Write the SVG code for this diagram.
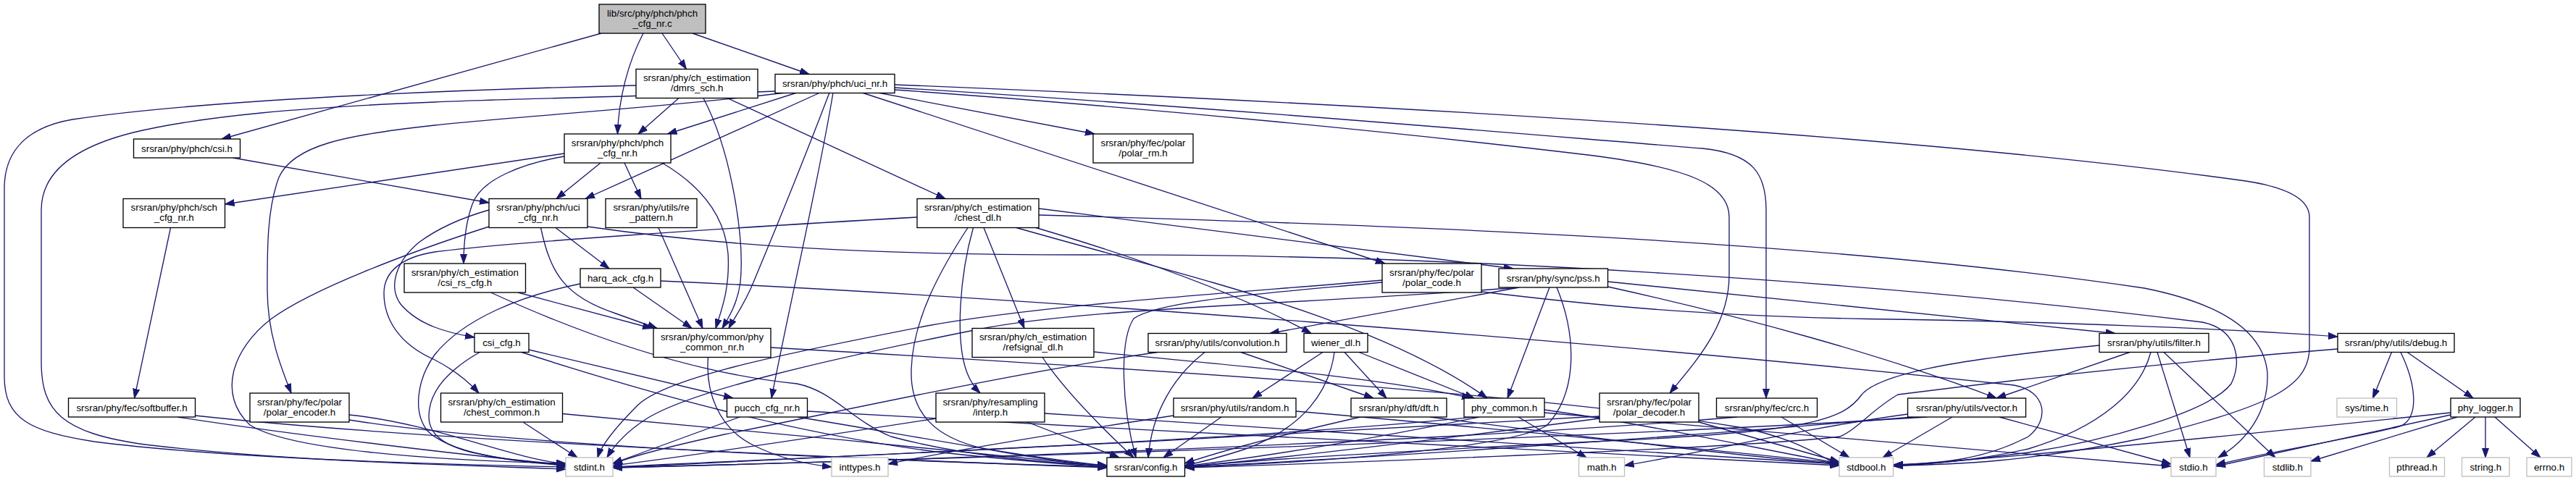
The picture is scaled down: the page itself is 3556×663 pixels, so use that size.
<svg xmlns="http://www.w3.org/2000/svg" width="3556" height="663" viewBox="0 0 3556 663">
<style>
.n rect{fill:#fff;stroke:#000;stroke-width:1.33}
.g rect{fill:#fff;stroke:#bfbfbf;stroke-width:1.33}
.r rect{fill:#bfbfbf;stroke:#000;stroke-width:1.33}
text{font-family:"Liberation Sans",Arial,Helvetica,sans-serif;font-size:13.33px;text-anchor:middle;fill:#000}
#edges path{fill:none;stroke:#191970;stroke-width:1.33;marker-end:url(#a)}
</style>
<defs>
<marker id="a" markerUnits="userSpaceOnUse" markerWidth="14" markerHeight="10" viewBox="0 0 14 10" refX="13" refY="5" orient="auto"><path d="M0,0.5 L13,5 L0,9.5 z" fill="#191970" stroke="#191970" stroke-width="1"/></marker>
</defs>
<rect width="3556" height="663" fill="#fff"/>
<g id="edges">
<path d="M830,46 L306,192"/>
<path d="M888,46 C867,86 854,136 852.5,185"/>
<path d="M914,46 L947.5,95.5"/>
<path d="M956,46 L1117,102.5"/>
<path d="M937,135.5 L881,185"/>
<path d="M971,135.5 C1010,210 1028,330 1022,390 C1018,420 1005,440 997,453.5"/>
<path d="M1004,135.5 L1305,274.5"/>
<path d="M878,118 C700,122 300,135 100,165 C25,178 6,220 6,260 L6,520 C6,578 40,596 130,610 C320,634 600,641 781,645"/>
<path d="M1070,126 C900,133 720,136 600,141 C420,148 280,160 184,183 C100,204 57,240 57,290 L57,500 C57,568 85,598 200,614 C400,638 650,643 781,648"/>
<path d="M1085,128 C900,150 720,160 600,173 C480,186 405,200 385,245 C368,290 369,350 369,400 C369,460 388,508 402,543"/>
<path d="M1100,128 L921.5,185"/>
<path d="M1132,128 L808,274.5"/>
<path d="M1145,128 C1110,220 1065,330 1040,390 C1028,420 1013,440 1006,453.5"/>
<path d="M1150,128 C1130,250 1090,420 1065,550"/>
<path d="M1212,128 L1511,185"/>
<path d="M1190,128 L1912,364"/>
<path d="M1235,117 C1800,140 2600,180 3100,250 C3178,262 3188,285 3188,300 L3188,480 C3188,540 3120,563 2960,605 C2800,638 2700,642 2614,643"/>
<path d="M1235,121 C1700,150 2100,185 2350,205 C2420,212 2438,240 2438,290 L2438,550"/>
<path d="M1235,124 C1600,150 1950,185 2200,215 C2330,232 2387,255 2387,300 L2387,380 C2387,450 2340,500 2305,543"/>
<path d="M321.5,218 L675,280"/>
<path d="M829,225 L768,274.5"/>
<path d="M862,225 L885,274.5"/>
<path d="M914,225 C965,255 1000,295 1005,350 C1008,400 995,430 988,453.5"/>
<path d="M779,216 C720,226 664,248 652,282 C642,310 640,340 640,364"/>
<path d="M779,212 L310.5,282"/>
<path d="M235.5,314.5 L185.5,550"/>
<path d="M245,576 C400,600 650,630 781,642"/>
<path d="M269.5,574 C600,610 1200,634 1528,646"/>
<path d="M482,573 C600,585 700,632 781,641"/>
<path d="M482,580 C700,615 1200,636 1528,645"/>
<path d="M675,290 C640,300 605,315 578,335 C548,360 535,395 553,420 C578,450 620,460 655,466"/>
<path d="M675,313 C560,350 430,400 375,440 C320,482 300,545 345,587 C400,622 600,636 781,640"/>
<path d="M767,314.5 L841,371"/>
<path d="M746.5,314.5 C760,378 780,410 850,433 C875,442 895,449 907,453.5"/>
<path d="M811,313 C1000,340 1200,352 1500,352 C2000,350 2600,390 3040,445 C3090,455 3095,500 3080,530 C3050,570 2900,610 2800,625 C2700,638 2650,642 2614,644"/>
<path d="M715,404 L900,453.5"/>
<path d="M677.5,404 C800,460 950,515 1100,530 C1150,540 1175,580 1230,603 C1330,630 1450,640 1528,643"/>
<path d="M874,397 L955,453.5"/>
<path d="M801,392 C720,408 640,440 600,490 C575,525 570,570 590,595 C620,625 700,637 781,643"/>
<path d="M912,388 C1400,410 2200,470 2780,532 C2825,540 2830,580 2800,603 C2740,635 2680,640 2614,642"/>
<path d="M663,486 C612,515 592,545 592,575 C592,600 612,615 652,625 C702,636 742,640 781,642"/>
<path d="M730,483 L1012,550"/>
<path d="M718.5,486 C900,545 1100,600 1300,625 C1420,638 1480,642 1528,645"/>
<path d="M977.5,493.5 C974,540 990,590 1040,615 C1080,635 1120,642 1148,645"/>
<path d="M1064,480 C1500,505 2100,540 2400,590 C2480,605 2510,630 2539,642"/>
<path d="M1266,300 C1000,315 700,335 600,348 C555,355 530,375 530,405 C530,440 550,475 600,497 C625,510 645,525 661,543"/>
<path d="M1336,314.5 C1300,370 1260,440 1258,510 C1256,570 1290,605 1360,620 C1430,633 1480,640 1528,644"/>
<path d="M1343.5,314.5 C1325,380 1318,470 1335,515 C1340,528 1346,536 1353,543"/>
<path d="M1358,314.5 L1414,453.5"/>
<path d="M1403,314.5 C1650,385 1900,440 2053,550"/>
<path d="M1434,288 L2089,371"/>
<path d="M1430,314.5 C1550,350 1700,400 1810,460.5"/>
<path d="M1434,297 C1900,310 2500,330 2960,398 C3070,420 3125,460 3130,515 C3132,570 3100,610 3062,632"/>
<path d="M1439,493.5 C1470,540 1520,590 1565,632"/>
<path d="M1510,486 C1700,505 1900,520 2031,550"/>
<path d="M1598,486.5 C1400,515 1200,560 1000,600 C900,622 860,635 846,641"/>
<path d="M1663,486.5 C1620,520 1590,570 1585,632"/>
<path d="M1713,486.5 L1896,550"/>
<path d="M1826,486.5 L1729,550"/>
<path d="M1856,486.5 L1914,550"/>
<path d="M1876,486.5 L2035,550"/>
<path d="M1842,486.5 C1835,540 1800,590 1720,620 C1680,633 1650,640 1635.5,643"/>
<path d="M1292,578 C1150,600 950,630 846,643"/>
<path d="M1418,583 L1545,632"/>
<path d="M1442,571 C1800,595 2300,625 2539,641"/>
<path d="M1620,574 C1450,600 1300,625 1226,641"/>
<path d="M1686,576 L1606,632"/>
<path d="M1789,568 C2100,595 2400,625 2539,640"/>
<path d="M1878,576 C1750,605 1680,625 1635.5,640"/>
<path d="M1974,576 C2200,605 2400,630 2539,641"/>
<path d="M2096,576 L2190,632"/>
<path d="M2042,576 C1900,605 1750,630 1635.5,644"/>
<path d="M2035,576 C1700,610 1100,632 846,645"/>
<path d="M2132,566 C2300,590 2450,625 2539,640"/>
<path d="M2132,570 C2500,600 2850,630 2997,644"/>
<path d="M2097,397 L1753,460.5"/>
<path d="M2097,397 C1800,420 1500,425 1350,455 C1150,495 950,540 890,580 C860,600 845,620 838,632"/>
<path d="M2139,397 L2081,550"/>
<path d="M2149,397 C2175,460 2180,540 2135,588 C2080,620 1800,640 1635.5,645"/>
<path d="M2219.5,389 L2920,460.5"/>
<path d="M2219.5,396 C2400,436 2600,490 2756,550"/>
<path d="M1908,387 C1700,405 1450,420 1280,450 C1100,485 920,520 880,560 C850,590 830,615 825,632"/>
<path d="M1908,390 C1750,405 1600,415 1565,440 C1545,470 1548,560 1568,632"/>
<path d="M2045,403 C2150,415 2300,435 2577,440.5 C2800,443 3100,455 3227,465"/>
<path d="M2940,486.5 L2756,550"/>
<path d="M2978,486.5 L3023,632"/>
<path d="M2987,486.5 L3141,632"/>
<path d="M2969,486.5 C2955,540 2900,590 2800,620 C2720,638 2660,641 2614,642"/>
<path d="M2898,477 C2750,492 2600,510 2570,545 C2545,580 2500,597 2200,610 C1900,625 1700,638 1635.5,645"/>
<path d="M3227,482 C3000,500 2800,522 2620,545 C2585,565 2565,592 2540,603 C2400,620 1800,641 1635.5,646"/>
<path d="M3301.5,486.5 L3275.5,550"/>
<path d="M3323,486.5 L3414,550"/>
<path d="M3314,486.5 C3335,530 3340,575 3315,588 C3280,600 3150,620 3059,642"/>
<path d="M3383,573 L3059,644"/>
<path d="M3392,576 L3190,637"/>
<path d="M3417,576 L3350,632"/>
<path d="M3431,576 L3431,632"/>
<path d="M3444,576 L3507,632"/>
<path d="M3383,570 C3100,600 2800,630 2614,643"/>
<path d="M2695,576 L2599,632"/>
<path d="M2760,576 L2997,641"/>
<path d="M2633.5,572 C2500,590 2350,625 2242.5,643"/>
<path d="M2640,576 C2300,605 1900,632 1635.5,645"/>
<path d="M2660,576 C2200,605 1400,632 846,646"/>
<path d="M2459,576 L2553,632"/>
<path d="M2398,576 C2000,610 1300,635 846,646"/>
<path d="M2345,583 L2539,638"/>
<path d="M2208,578 C2000,605 1800,630 1635.5,645"/>
<path d="M2208,575 C1800,600 1200,630 846,646"/>
<path d="M1021,576 L846,640"/>
<path d="M1101,576 C1250,600 1400,630 1528,643"/>
<path d="M1114.5,568 C1600,595 2200,628 2539,643"/>
<path d="M722,583 L797,632"/>
<path d="M776.5,571.5 C1000,592 1300,620 1528,644"/>
<path d="M909,314.5 L970,453.5"/>
</g>
<g id="n_root" class="r"><rect x="827" y="6" width="147" height="40"/><text x="900.5" y="22.5">lib/src/phy/phch/phch</text><text x="900.5" y="36.5">_cfg_nr.c</text></g>
<g id="n_dmrs" class="n"><rect x="878" y="95.5" width="168" height="40"/><text x="962" y="112">srsran/phy/ch_estimation</text><text x="962" y="126">/dmrs_sch.h</text></g>
<g id="n_ucinr" class="n"><rect x="1070" y="102.5" width="165" height="26"/><text x="1152.5" y="120">srsran/phy/phch/uci_nr.h</text></g>
<g id="n_csi" class="n"><rect x="184.5" y="192" width="147" height="26"/><text x="258" y="209.5">srsran/phy/phch/csi.h</text></g>
<g id="n_phchcfg" class="n"><rect x="779" y="185" width="147" height="40"/><text x="852.5" y="201.5">srsran/phy/phch/phch</text><text x="852.5" y="215.5">_cfg_nr.h</text></g>
<g id="n_polarrm" class="n"><rect x="1509" y="185" width="138" height="40"/><text x="1578" y="201.5">srsran/phy/fec/polar</text><text x="1578" y="215.5">/polar_rm.h</text></g>
<g id="n_sch" class="n"><rect x="170" y="274.5" width="140.5" height="40"/><text x="240.25" y="291">srsran/phy/phch/sch</text><text x="240.25" y="305">_cfg_nr.h</text></g>
<g id="n_ucicfg" class="n"><rect x="675" y="274.5" width="136" height="40"/><text x="743" y="291">srsran/phy/phch/uci</text><text x="743" y="305">_cfg_nr.h</text></g>
<g id="n_repat" class="n"><rect x="836" y="274.5" width="126" height="40"/><text x="899" y="291">srsran/phy/utils/re</text><text x="899" y="305">_pattern.h</text></g>
<g id="n_chestdl" class="n"><rect x="1266" y="274.5" width="168" height="40"/><text x="1350" y="291">srsran/phy/ch_estimation</text><text x="1350" y="305">/chest_dl.h</text></g>
<g id="n_csirs" class="n"><rect x="558" y="364" width="167.5" height="40"/><text x="641.75" y="380.5">srsran/phy/ch_estimation</text><text x="641.75" y="394.5">/csi_rs_cfg.h</text></g>
<g id="n_harq" class="n"><rect x="801" y="371" width="111" height="26"/><text x="856.5" y="388.5">harq_ack_cfg.h</text></g>
<g id="n_polarcode" class="n"><rect x="1908" y="364" width="137" height="40"/><text x="1976.5" y="380.5">srsran/phy/fec/polar</text><text x="1976.5" y="394.5">/polar_code.h</text></g>
<g id="n_pss" class="n"><rect x="2069" y="371" width="150.5" height="26"/><text x="2144.25" y="388.5">srsran/phy/sync/pss.h</text></g>
<g id="n_csicfg" class="n"><rect x="655" y="460.5" width="75" height="26"/><text x="692.5" y="478">csi_cfg.h</text></g>
<g id="n_pcnr" class="n"><rect x="902" y="453.5" width="162" height="40"/><text x="983" y="470">srsran/phy/common/phy</text><text x="983" y="484">_common_nr.h</text></g>
<g id="n_refsig" class="n"><rect x="1342" y="453.5" width="168" height="40"/><text x="1426" y="470">srsran/phy/ch_estimation</text><text x="1426" y="484">/refsignal_dl.h</text></g>
<g id="n_conv" class="n"><rect x="1585" y="460.5" width="191" height="26"/><text x="1680.5" y="478">srsran/phy/utils/convolution.h</text></g>
<g id="n_wiener" class="n"><rect x="1800" y="460.5" width="88" height="26"/><text x="1844" y="478">wiener_dl.h</text></g>
<g id="n_filter" class="n"><rect x="2898" y="460.5" width="151" height="26"/><text x="2973.5" y="478">srsran/phy/utils/filter.h</text></g>
<g id="n_debug" class="n"><rect x="3227" y="460.5" width="161" height="26"/><text x="3307.5" y="478">srsran/phy/utils/debug.h</text></g>
<g id="n_softbuf" class="n"><rect x="94.5" y="550" width="175" height="26"/><text x="182" y="567.5">srsran/phy/fec/softbuffer.h</text></g>
<g id="n_polenc" class="n"><rect x="345" y="543" width="137" height="40"/><text x="413.5" y="559.5">srsran/phy/fec/polar</text><text x="413.5" y="573.5">/polar_encoder.h</text></g>
<g id="n_chestcommon" class="n"><rect x="608.5" y="543" width="168" height="40"/><text x="692.5" y="559.5">srsran/phy/ch_estimation</text><text x="692.5" y="573.5">/chest_common.h</text></g>
<g id="n_pucch" class="n"><rect x="1003.5" y="550" width="111" height="26"/><text x="1059" y="567.5">pucch_cfg_nr.h</text></g>
<g id="n_interp" class="n"><rect x="1292" y="543" width="150" height="40"/><text x="1367" y="559.5">srsran/phy/resampling</text><text x="1367" y="573.5">/interp.h</text></g>
<g id="n_random" class="n"><rect x="1620" y="550" width="169" height="26"/><text x="1704.5" y="567.5">srsran/phy/utils/random.h</text></g>
<g id="n_dft" class="n"><rect x="1865" y="550" width="132" height="26"/><text x="1931" y="567.5">srsran/phy/dft/dft.h</text></g>
<g id="n_phycommon" class="n"><rect x="2021" y="550" width="111" height="26"/><text x="2076.5" y="567.5">phy_common.h</text></g>
<g id="n_poldec" class="n"><rect x="2208" y="543" width="137" height="40"/><text x="2276.5" y="559.5">srsran/phy/fec/polar</text><text x="2276.5" y="573.5">/polar_decoder.h</text></g>
<g id="n_crc" class="n"><rect x="2369.5" y="550" width="139" height="26"/><text x="2439" y="567.5">srsran/phy/fec/crc.h</text></g>
<g id="n_vector" class="n"><rect x="2633.5" y="550" width="163" height="26"/><text x="2715" y="567.5">srsran/phy/utils/vector.h</text></g>
<g id="n_systime" class="g"><rect x="3226" y="550" width="82.5" height="26"/><text x="3267.25" y="567.5">sys/time.h</text></g>
<g id="n_logger" class="n"><rect x="3383" y="550" width="96" height="26"/><text x="3431" y="567.5">phy_logger.h</text></g>
<g id="n_stdint" class="g"><rect x="781" y="632" width="65" height="26"/><text x="813.5" y="649.5">stdint.h</text></g>
<g id="n_inttypes" class="g"><rect x="1148" y="632" width="78" height="26"/><text x="1187" y="649.5">inttypes.h</text></g>
<g id="n_config" class="n"><rect x="1528" y="632" width="107.5" height="26"/><text x="1581.75" y="649.5">srsran/config.h</text></g>
<g id="n_math" class="g"><rect x="2179.5" y="632" width="63" height="26"/><text x="2211" y="649.5">math.h</text></g>
<g id="n_stdbool" class="g"><rect x="2539" y="632" width="74.5" height="26"/><text x="2576.25" y="649.5">stdbool.h</text></g>
<g id="n_stdio" class="g"><rect x="2997" y="632" width="62" height="26"/><text x="3028" y="649.5">stdio.h</text></g>
<g id="n_stdlib" class="g"><rect x="3125.5" y="632" width="64.5" height="26"/><text x="3157.75" y="649.5">stdlib.h</text></g>
<g id="n_pthread" class="g"><rect x="3298.5" y="632" width="76" height="26"/><text x="3336.5" y="649.5">pthread.h</text></g>
<g id="n_string" class="g"><rect x="3398.5" y="632" width="65.5" height="26"/><text x="3431.25" y="649.5">string.h</text></g>
<g id="n_errno" class="g"><rect x="3488" y="632" width="62" height="26"/><text x="3519" y="649.5">errno.h</text></g>
</svg>
